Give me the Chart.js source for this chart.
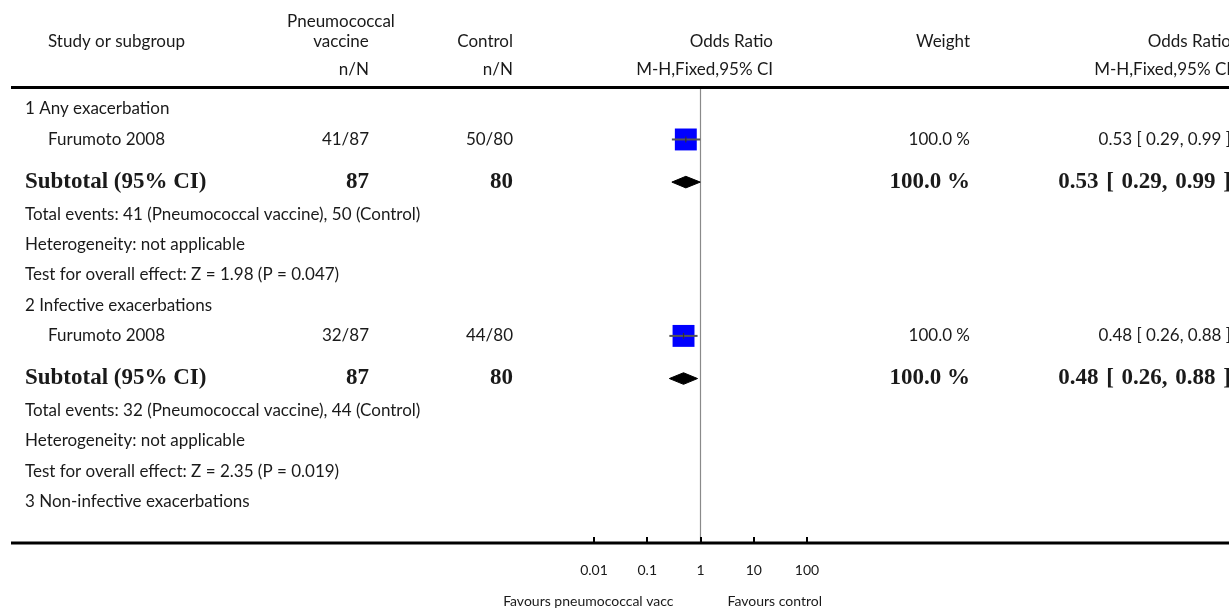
<!DOCTYPE html>
<html>
<head>
<meta charset="utf-8">
<script src="https://cdn.jsdelivr.net/npm/chart.js@4"></script>
<style>
  html, body { margin: 0; padding: 0; background: #fff; }
  canvas { display: block; }
</style>
</head>
<body>
<canvas id="forest" width="1229" height="609"></canvas>
<script>
// Forest plot: pneumococcal vaccine vs control, odds ratios on a log axis

// Subgroups and their studies
const groups = ['1 Any exacerbation', '2 Infective exacerbations', '3 Non-infective exacerbations'];
const studyNames = ['Furumoto 2008', 'Furumoto 2008'];
const vaccineEvents = ['41/87', '32/87'];
const controlEvents = ['50/80', '44/80'];
const studyOR = [0.53, 0.48];
const studyLow = [0.29, 0.26];
const studyHigh = [0.99, 0.88];
const studyWeight = ['100.0 %', '100.0 %'];

// Subtotals
const subtotalVaccineN = ['87', '87'];
const subtotalControlN = ['80', '80'];
const subtotalOR = [0.53, 0.48];
const subtotalLow = [0.29, 0.26];
const subtotalHigh = [0.99, 0.88];
const subtotalWeight = ['100.0 %', '100.0 %'];
const totalEvents = ['Total events: 41 (Pneumococcal vaccine), 50 (Control)',
                     'Total events: 32 (Pneumococcal vaccine), 44 (Control)'];
const heterogeneity = ['Heterogeneity: not applicable', 'Heterogeneity: not applicable'];
const overallTest = ['Test for overall effect: Z = 1.98 (P = 0.047)',
                     'Test for overall effect: Z = 2.35 (P = 0.019)'];

// Axis
const xTicks = [0.01, 0.1, 1, 10, 100];
const xTickLabels = ['0.01', '0.1', '1', '10', '100'];
const favoursLeft = 'Favours pneumococcal vacc';
const favoursRight = 'Favours control';

const fmtCI = (o, l, h) => o.toFixed(2) + ' [ ' + l.toFixed(2) + ', ' + h.toFixed(2) + ' ]';

// Row layout (in row units, top to bottom)
const rows = [];
let pos = 0;
groups.forEach((g, i) => {
    rows.push({kind: 'group', i: i, y: pos});
    if (i < studyNames.length) {
        pos += 1;    rows.push({kind: 'study', i: i, y: pos});
        pos += 1.4;  rows.push({kind: 'subtotal', i: i, y: pos});
        pos += 1.05; rows.push({kind: 'note', text: totalEvents[i], y: pos});
        pos += 1;    rows.push({kind: 'note', text: heterogeneity[i], y: pos});
        pos += 1;    rows.push({kind: 'note', text: overallTest[i], y: pos});
        pos += 1;
    }
});
const studyRows = rows.filter(r => r.kind === 'study');
const subRows = rows.filter(r => r.kind === 'subtotal');

const SANS = '"Lato", "Open Sans", sans-serif';
const SERIF = '"Liberation Serif", "DejaVu Serif", serif';
const DIAMOND_H = 0.19;

// Column anchors (px)
const COL = {
    name: 48, group: 25, vacc: 369, vaccHead: 341, ctrl: 513,
    orHead: 773, weight: 970, orText: 1231
};

const datasets = [];
// point estimate ticks
datasets.push({
    data: studyRows.map(r => ({x: studyOR[r.i], y: r.y})),
    pointStyle: 'line', rotation: 90, pointRadius: 3,
    borderColor: '#333', borderWidth: 1.2, showLine: false
});
// confidence interval whiskers
studyRows.forEach(r => {
    datasets.push({
        data: [{x: studyLow[r.i], y: r.y}, {x: studyHigh[r.i], y: r.y}],
        showLine: true, borderColor: '#555', borderWidth: 2,
        pointRadius: 0, fill: false
    });
});
// study squares
datasets.push({
    data: studyRows.map(r => ({x: studyOR[r.i], y: r.y})),
    pointStyle: 'rect', pointRadius: 15.5,
    backgroundColor: '#0000ff', borderWidth: 0, showLine: false
});
// subtotal diamonds
subRows.forEach(r => {
    const i = r.i;
    datasets.push({
        data: [
            {x: subtotalLow[i], y: r.y},
            {x: subtotalOR[i], y: r.y - DIAMOND_H},
            {x: subtotalHigh[i], y: r.y},
            {x: subtotalOR[i], y: r.y + DIAMOND_H},
            {x: subtotalLow[i], y: r.y}
        ],
        showLine: true, fill: 'shape', tension: 0,
        borderColor: '#000', borderWidth: 1, backgroundColor: '#000',
        pointRadius: 0
    });
});

const forestTable = {
    id: 'forestTable',
    beforeDatasetsDraw(chart) {
        const ctx = chart.ctx;
        const {top, bottom} = chart.chartArea;
        const x = chart.scales.x;
        ctx.save();
        // line of no effect
        ctx.strokeStyle = '#8a8a8a';
        ctx.lineWidth = 1.2;
        ctx.beginPath();
        ctx.moveTo(x.getPixelForValue(1), top);
        ctx.lineTo(x.getPixelForValue(1), bottom);
        ctx.stroke();
        ctx.restore();
    },
    afterDraw(chart) {
        const ctx = chart.ctx;
        const {top, bottom} = chart.chartArea;
        const x = chart.scales.x, y = chart.scales.y;
        const W = chart.width;
        ctx.save();

        // header and axis rules
        ctx.strokeStyle = '#000';
        ctx.lineWidth = 3;
        ctx.beginPath();
        ctx.moveTo(11, top - 0.5); ctx.lineTo(W, top - 0.5);
        ctx.moveTo(11, bottom); ctx.lineTo(W, bottom);
        ctx.stroke();

        // axis ticks
        ctx.lineWidth = 2;
        ctx.beginPath();
        xTicks.forEach(v => {
            const px = Math.round(x.getPixelForValue(v));
            ctx.moveTo(px, bottom - 6); ctx.lineTo(px, bottom);
        });
        ctx.stroke();

        const text = (s, px, py, align, font) => {
            ctx.font = font;
            ctx.textAlign = align;
            ctx.textBaseline = 'middle';
            ctx.fillText(s, px, py);
        };
        const norm = '17px ' + SANS;
        const bold = 'bold 23px ' + SERIF;
        ctx.fillStyle = '#1a1a1a';

        // headers
        text('Study or subgroup', COL.name, top - 46, 'left', norm);
        text('Pneumococcal', COL.vaccHead, top - 66, 'center', norm);
        text('vaccine', COL.vaccHead, top - 46, 'center', norm);
        text('n/N', COL.vacc, top - 18, 'right', norm);
        text('Control', COL.ctrl, top - 46, 'right', norm);
        text('n/N', COL.ctrl, top - 18, 'right', norm);
        text('Odds Ratio', COL.orHead, top - 46, 'right', norm);
        text('M-H,Fixed,95% CI', COL.orHead, top - 18, 'right', norm);
        text('Weight', COL.weight, top - 46, 'right', norm);
        text('Odds Ratio', COL.orText, top - 46, 'right', norm);
        text('M-H,Fixed,95% CI', COL.orText, top - 18, 'right', norm);

        // body rows
        rows.forEach(r => {
            const py = y.getPixelForValue(r.y);
            if (r.kind === 'group') {
                text(groups[r.i], COL.group, py, 'left', norm);
            } else if (r.kind === 'study') {
                const i = r.i;
                text(studyNames[i], COL.name, py, 'left', norm);
                text(vaccineEvents[i], COL.vacc, py, 'right', norm);
                text(controlEvents[i], COL.ctrl, py, 'right', norm);
                text(studyWeight[i], COL.weight, py, 'right', norm);
                text(fmtCI(studyOR[i], studyLow[i], studyHigh[i]), COL.orText, py, 'right', norm);
            } else if (r.kind === 'subtotal') {
                const i = r.i;
                text('Subtotal (95% CI)', COL.group, py, 'left', bold);
                text(subtotalVaccineN[i], COL.vacc, py, 'right', bold);
                text(subtotalControlN[i], COL.ctrl, py, 'right', bold);
                text(subtotalWeight[i], COL.weight, py, 'right', bold);
                ctx.wordSpacing = '2px';
                text(fmtCI(subtotalOR[i], subtotalLow[i], subtotalHigh[i]), COL.orText, py, 'right', bold);
                ctx.wordSpacing = '0px';
            } else {
                text(r.text, COL.group, py, 'left', norm);
            }
        });

        // axis labels
        const small = '14px ' + SANS;
        xTicks.forEach((v, k) => text(xTickLabels[k], x.getPixelForValue(v), bottom + 27, 'center', small));
        const one = x.getPixelForValue(1);
        text(favoursLeft, one - 27, bottom + 58, 'right', small);
        text(favoursRight, one + 27, bottom + 58, 'left', small);
        ctx.restore();
    }
};

new Chart(document.getElementById('forest'), {
    type: 'scatter',
    data: {datasets: datasets},
    options: {
        responsive: false,
        devicePixelRatio: 1,
        animation: false,
        layout: {padding: {left: 594, right: 422, top: 88, bottom: 66}},
        scales: {
            x: {type: 'logarithmic', min: 0.01, max: 100, display: false},
            y: {type: 'linear', min: -0.69, max: 14.25, reverse: true, display: false}
        },
        plugins: {legend: {display: false}, tooltip: {enabled: false}}
    },
    plugins: [forestTable]
});
</script>
</body>
</html>
